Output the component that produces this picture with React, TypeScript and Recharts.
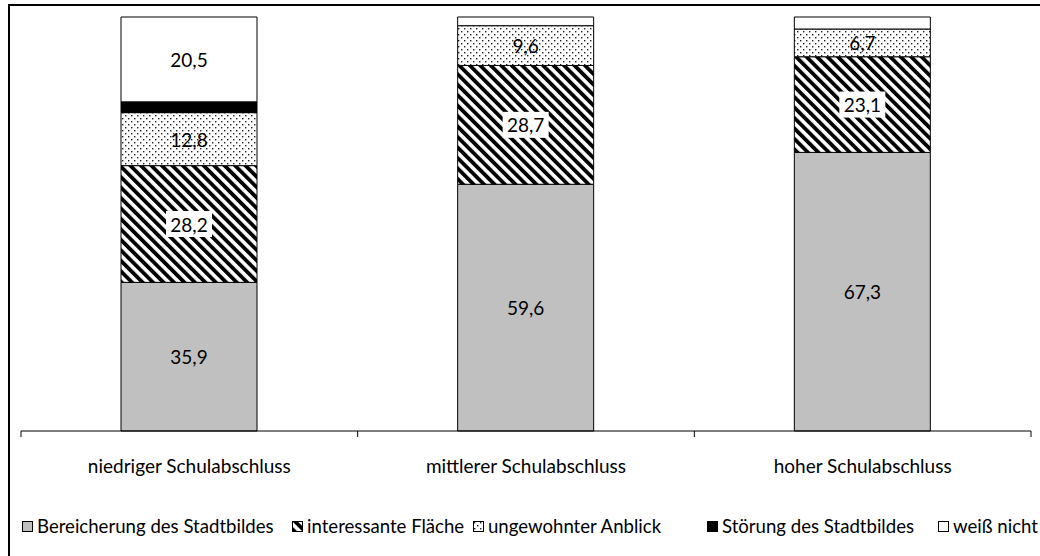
import { BarChart, Bar, XAxis, YAxis, LabelList, Legend } from "recharts";

const categories = ["niedriger Schulabschluss", "mittlerer Schulabschluss", "hoher Schulabschluss"];
const bereicherung = [35.9, 59.6, 67.3];
const interessant = [28.2, 28.7, 23.1];
const ungewohnt = [12.8, 9.6, 6.7];
const stoerung = [2.6, 0, 0];
const weissNicht = [20.5, 2.1, 2.9];

const seriesNames = [
  "Bereicherung des Stadtbildes",
  "interessante Fläche",
  "ungewohnter Anblick",
  "Störung des Stadtbildes",
  "weiß nicht",
];

const data = categories.map((name, i) => ({
  name,
  bereicherung: bereicherung[i],
  interessant: interessant[i],
  ungewohnt: ungewohnt[i],
  stoerung: stoerung[i],
  weissNicht: weissNicht[i],
}));

const FONT = "Lato, 'Open Sans', sans-serif";
const FS = 19;
const CHART_W = 1030;
const CHART_H = 550;
const XAXIS_H = 30;
const MARGIN = { top: 11, right: 9, left: 11, bottom: 125 - XAXIS_H };
const BAND = (CHART_W - MARGIN.left - MARGIN.right) / categories.length;
// legend item offsets, measured from the first legend swatch
const LEGEND_OFFSETS = [0, 270, 451, 685, 916];

const fills = [
  "#c0c0c0",
  "url(#hatch)",
  "url(#dots)",
  "#000000",
  "#ffffff",
];

const fmt = (v: number) => v.toFixed(1).replace(".", ",");

function makeLabel(boxed: boolean) {
  return (props: any) => {
    const { x, y, width, height, value } = props;
    if (value == null || value < 5) return null;
    const cx = x + width / 2;
    const cy = y + height / 2;
    return (
      <g>
        {boxed && <rect x={cx - 23} y={cy - 13} width={46} height={26} fill="#fff" />}
        <text
          x={cx}
          y={cy}
          textAnchor="middle"
          dominantBaseline="central"
          fontFamily={FONT}
          fontSize={FS}
          fill="#000"
        >
          {fmt(value)}
        </text>
      </g>
    );
  };
}

function CategoryTick(props: any) {
  const { x, y, payload, index } = props;
  const half = BAND / 2;
  return (
    <g>
      <line x1={x - half} y1={y} x2={x - half} y2={y + 6} stroke="#000" />
      {index === categories.length - 1 && (
        <line x1={x + half} y1={y} x2={x + half} y2={y + 6} stroke="#000" />
      )}
      <text
        x={x}
        y={y + 34}
        textAnchor="middle"
        dominantBaseline="central"
        fontFamily={FONT}
        fontSize={FS}
        fill="#000"
      >
        {payload.value}
      </text>
    </g>
  );
}

function LegendContent() {
  return (
    <div style={{ position: "relative", height: 24, fontFamily: FONT, fontSize: 18.6, whiteSpace: "nowrap" }}>
      {seriesNames.map((n, i) => (
        <span
          key={n}
          style={{ position: "absolute", left: LEGEND_OFFSETS[i], top: 0, display: "inline-flex", alignItems: "center" }}
        >
          <svg width={11} height={11} style={{ marginRight: 4 }}>
            <rect x={0.5} y={0.5} width={10} height={10} fill={fills[i]} stroke="#000" />
          </svg>
          {n}
        </span>
      ))}
    </div>
  );
}

export default function App() {
  return (
    <div
      style={{
        position: "fixed",
        left: 8,
        top: 4,
        width: 1032,
        height: 552,
        boxSizing: "border-box",
        borderLeft: "2px solid #000",
        borderTop: "2px solid #000",
        overflow: "hidden",
        background: "#fff",
      }}
    >
      <BarChart width={CHART_W} height={CHART_H} data={data} margin={MARGIN} barSize={136}>
        <defs>
          <pattern id="hatch" width={7.4} height={7.4} patternUnits="userSpaceOnUse" patternTransform="rotate(-45)">
            <rect width={7.4} height={7.4} fill="#fff" />
            <line x1={1.9} y1={0} x2={1.9} y2={7.4} stroke="#000" strokeWidth={3.8} />
          </pattern>
          <pattern id="dots" width={6} height={6} patternUnits="userSpaceOnUse">
            <rect width={6} height={6} fill="#fff" />
            <rect x={1} y={1} width={1.4} height={1.4} fill="#222" />
            <rect x={4} y={4} width={1.4} height={1.4} fill="#222" />
          </pattern>
        </defs>
        <XAxis
          dataKey="name"
          height={XAXIS_H}
          axisLine={{ stroke: "#000" }}
          tickLine={false}
          tickSize={0}
          tickMargin={0}
          tick={<CategoryTick />}
          interval={0}
        />
        <YAxis hide domain={[0, 100]} />
        <Legend
          layout="horizontal"
          verticalAlign="middle"
          align="center"
          content={<LegendContent />}
          wrapperStyle={{ position: "absolute", left: 12, top: 509, width: 1100 }}
        />
        <Bar dataKey="bereicherung" stackId="a" fill={fills[0]} stroke="#000" isAnimationActive={false}>
          <LabelList dataKey="bereicherung" content={makeLabel(false)} />
        </Bar>
        <Bar dataKey="interessant" stackId="a" fill={fills[1]} stroke="#000" isAnimationActive={false}>
          <LabelList dataKey="interessant" content={makeLabel(true)} />
        </Bar>
        <Bar dataKey="ungewohnt" stackId="a" fill={fills[2]} stroke="#000" isAnimationActive={false}>
          <LabelList dataKey="ungewohnt" content={makeLabel(false)} />
        </Bar>
        <Bar dataKey="stoerung" stackId="a" fill={fills[3]} stroke="#000" isAnimationActive={false} />
        <Bar dataKey="weissNicht" stackId="a" fill={fills[4]} stroke="#000" isAnimationActive={false}>
          <LabelList dataKey="weissNicht" content={makeLabel(false)} />
        </Bar>
      </BarChart>
    </div>
  );
}
